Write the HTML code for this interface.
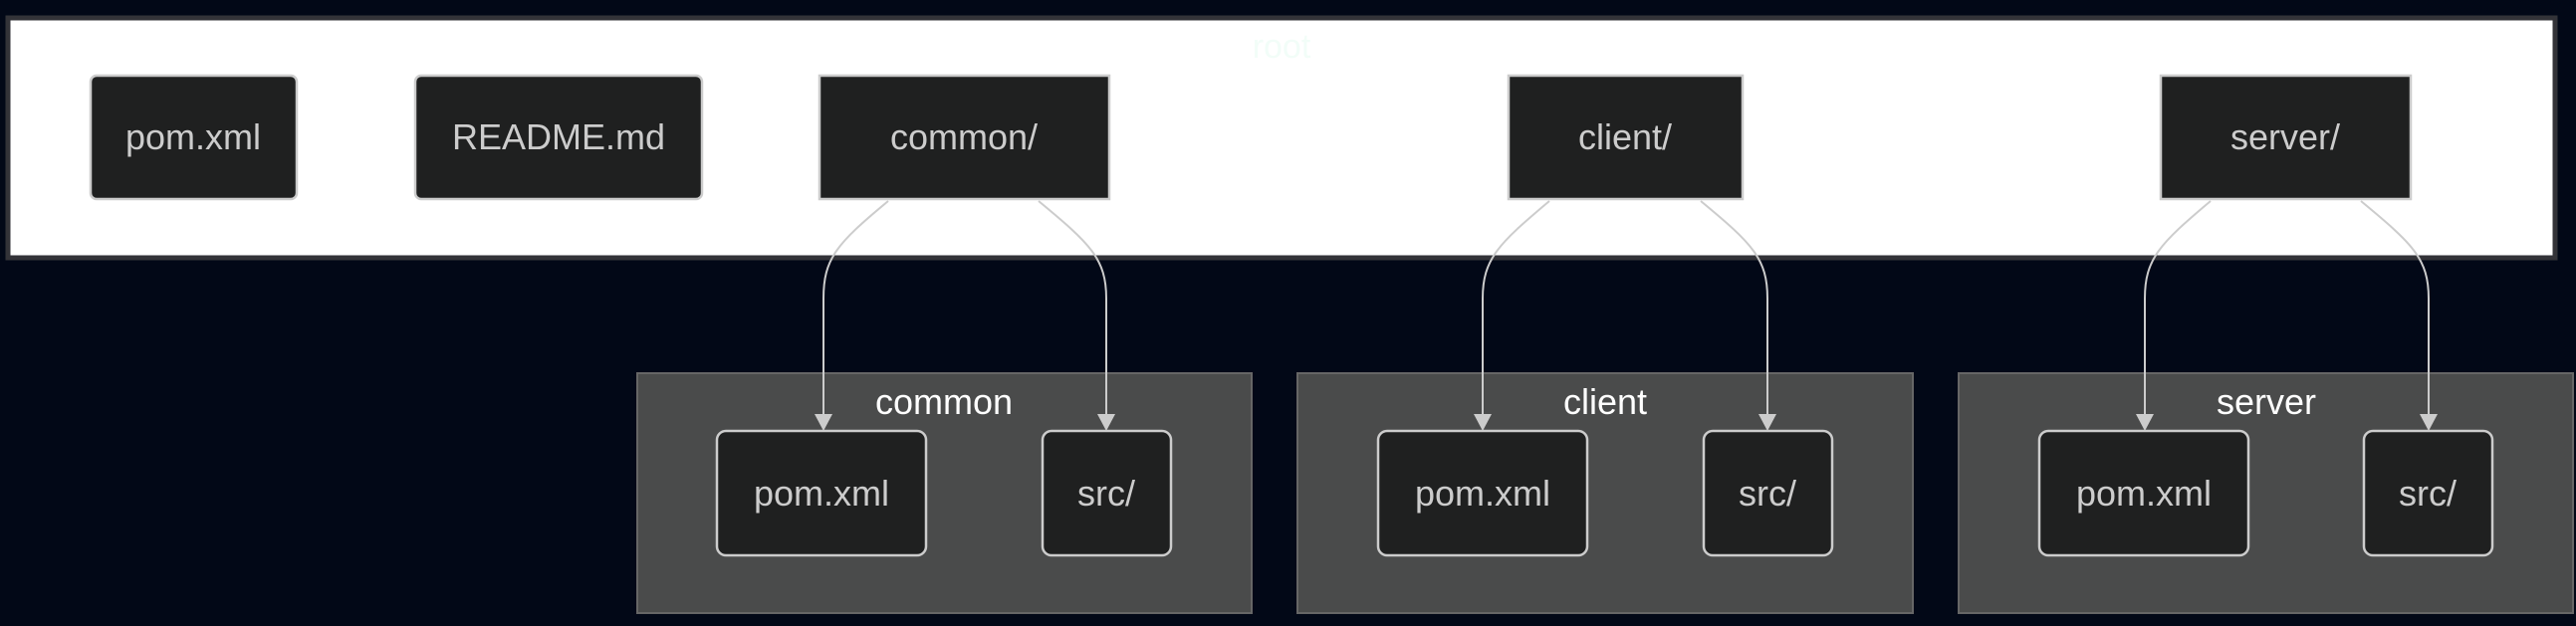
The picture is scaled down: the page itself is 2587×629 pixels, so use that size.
<!DOCTYPE html>
<html><head><meta charset="utf-8"><style>
html,body{margin:0;padding:0;background:#020817;}
svg{display:block;}
text{font-family:"Liberation Sans",sans-serif;}
</style></head><body>
<svg width="2587" height="629" viewBox="0 0 2587 629" xmlns="http://www.w3.org/2000/svg">
<rect width="2587" height="629" fill="#020817"/>
<rect x="8" y="18" width="2558" height="241" fill="#ffffff" stroke="#333338" stroke-width="5"/>
<text x="1287" y="58" font-size="34" fill="#f2fdf8" text-anchor="middle">root</text>

<g stroke="#cccccc" stroke-width="2.5" fill="#1f2020">
<rect x="91" y="76" width="207" height="124" rx="6"/>
<rect x="417" y="76" width="288" height="124" rx="6"/>
<rect x="823" y="76" width="291" height="124"/>
<rect x="1515" y="76" width="235" height="124"/>
<rect x="2170" y="76" width="251" height="124"/>
</g>

<g fill="#4a4b4b" stroke="#666666" stroke-width="2">
<rect x="640" y="375" width="617" height="241"/>
<rect x="1303" y="375" width="618" height="241"/>
<rect x="1967" y="375" width="617" height="241"/>
</g>
<g font-size="36" fill="#ffffff" text-anchor="middle">
<text x="948" y="416">common</text>
<text x="1612" y="416">client</text>
<text x="2276" y="416">server</text>
</g>

<g stroke="#cccccc" stroke-width="2.5" fill="#1f2020">
<rect x="720" y="433" width="210" height="125" rx="9"/>
<rect x="1047" y="433" width="129" height="125" rx="9"/>
<rect x="1384" y="433" width="210" height="125" rx="9"/>
<rect x="1711" y="433" width="129" height="125" rx="9"/>
<rect x="2048" y="433" width="210" height="125" rx="9"/>
<rect x="2374" y="433" width="129" height="125" rx="9"/>
</g>

<g font-size="36" fill="#cccccc" text-anchor="middle">
<text x="194" y="150">pom.xml</text>
<text x="561" y="150">README.md</text>
<text x="968" y="150">common/</text>
<text x="1632" y="150">client/</text>
<text x="2295" y="150">server/</text>
<text x="825" y="508">pom.xml</text>
<text x="1111" y="508">src/</text>
<text x="1489" y="508">pom.xml</text>
<text x="1775" y="508">src/</text>
<text x="2153" y="508">pom.xml</text>
<text x="2438" y="508">src/</text>
</g>

<g stroke="#cccccc" stroke-width="2" fill="none">
<path d="M892 202 C840 245 827 260 827 300 L827 418"/>
<path d="M1043 202 C1095 245 1111 260 1111 300 L1111 418"/>
<path d="M1556 202 C1505 245 1489 260 1489 300 L1489 418"/>
<path d="M1708 202 C1760 245 1775 260 1775 300 L1775 418"/>
<path d="M2220 202 C2169 245 2154 260 2154 300 L2154 418"/>
<path d="M2371 202 C2423 245 2439 260 2439 300 L2439 418"/>
</g>
<g fill="#cccccc">
<path d="M818 416 L836 416 L827 433 Z"/>
<path d="M1102 416 L1120 416 L1111 433 Z"/>
<path d="M1480 416 L1498 416 L1489 433 Z"/>
<path d="M1766 416 L1784 416 L1775 433 Z"/>
<path d="M2145 416 L2163 416 L2154 433 Z"/>
<path d="M2430 416 L2448 416 L2439 433 Z"/>
</g>
</svg>
</body></html>
